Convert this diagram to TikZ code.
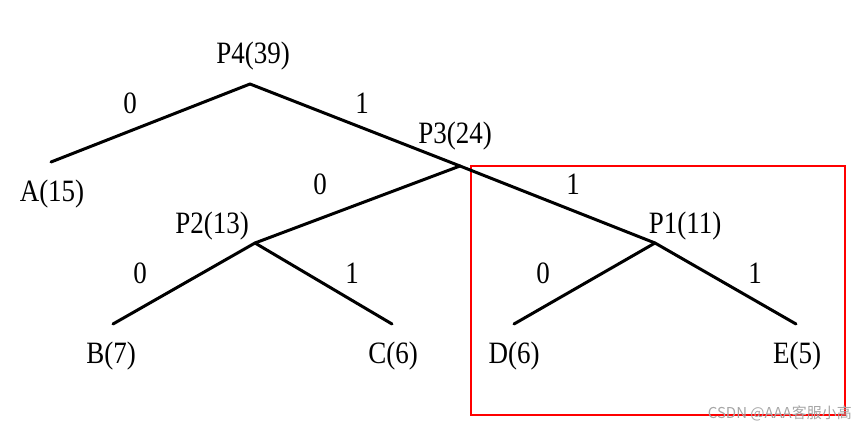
\documentclass[tikz,border=0pt]{standalone}
\usepackage{fontspec}
\setmainfont{Liberation Serif}
\newfontfamily\cjk{Noto Sans CJK SC}
\newcommand{\tallt}[1]{\scalebox{1}[1.15]{#1}}
\begin{document}
\begin{tikzpicture}[x=1pt,y=-1pt,
  edge/.style={line width=3pt,line cap=round},
  lbl/.style={font=\fontsize{27}{27}\selectfont,inner sep=0pt,anchor=center},
  frame/.style={draw=red,line width=1.3pt}]
\useasboundingbox (0,0) rectangle (856,428);
% junctions and leaves
\coordinate (p4) at (250,84);
\coordinate (a) at (51,162);
\coordinate (p3) at (460,166);
\coordinate (p2) at (255,243);
\coordinate (p1) at (655,243);
\coordinate (b) at (113,324);
\coordinate (c) at (392,324);
\coordinate (d) at (514,324);
\coordinate (e) at (796,324);
% red frame
\coordinate (f1) at (471,166);
\coordinate (f2) at (845,415);
\draw[frame] (f1) rectangle (f2);
% edges
\draw[edge] (p4) -- (a);
\draw[edge] (p4) -- (p3);
\draw[edge] (p3) -- (p2);
\draw[edge] (p3) -- (p1);
\draw[edge] (p2) -- (b);
\draw[edge] (p2) -- (c);
\draw[edge] (p1) -- (d);
\draw[edge] (p1) -- (e);
% node labels
\node[lbl] (lp4) at (253,56) {\tallt{P4(39)}};
\node[lbl] (lp3) at (455,136) {\tallt{P3(24)}};
\node[lbl] (lp2) at (212,226) {\tallt{P2(13)}};
\node[lbl] (lp1) at (685,226) {\tallt{P1(11)}};
\node[lbl] (la) at (52,194) {\tallt{A(15)}};
\node[lbl] (lb) at (111,356) {\tallt{B(7)}};
\node[lbl] (lc) at (393,356) {\tallt{C(6)}};
\node[lbl] (ld) at (514,356) {\tallt{D(6)}};
\node[lbl] (le) at (797,356) {\tallt{E(5)}};
% edge labels
\node[lbl] (e1) at (130,103) {\tallt{0}};
\node[lbl] (e2) at (362,103) {\tallt{1}};
\node[lbl] (e3) at (320,184) {\tallt{0}};
\node[lbl] (e4) at (573,184) {\tallt{1}};
\node[lbl] (e5) at (140,273) {\tallt{0}};
\node[lbl] (e6) at (352,273) {\tallt{1}};
\node[lbl] (e7) at (543,273) {\tallt{0}};
\node[lbl] (e8) at (755,273) {\tallt{1}};
% watermark
\node[font=\cjk\fontsize{15}{15}\selectfont,text=black!35,inner sep=0pt,anchor=east] (wm) at (852,413) {CSDN @AAA客服小高};
\end{tikzpicture}
\end{document}
